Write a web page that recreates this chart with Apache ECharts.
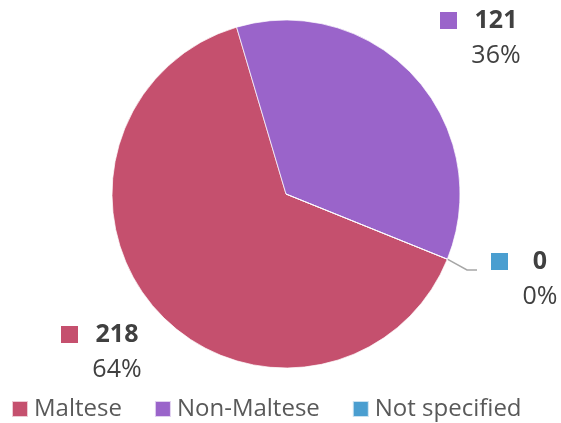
<!DOCTYPE html>
<html>
<head>
<meta charset="utf-8">
<script src="https://cdn.jsdelivr.net/npm/echarts@6/dist/echarts.min.js"></script>
<style>
  html, body { margin: 0; padding: 0; background: #fff; }
  #chart { width: 561px; height: 423px; }
</style>
</head>
<body>
<div id="chart"></div>
<script>
// data
const categories = ['Maltese', 'Non-Maltese', 'Not specified'];
const counts = [218, 121, 0];
const colors = ['#C5506E', '#9A64CA', '#4A9ED0'];

// where each label box sits (left, top); the last one has extra padding for its leader line
const labelPos = [[61, 317], [440, 3], [477, 226]];

const total = counts.reduce((a, b) => a + b, 0);

const chart = echarts.init(document.getElementById('chart'));
const font = "'Open Sans', 'Liberation Sans', sans-serif";

const numStyle = {
  align: 'center', width: 36,
  fontSize: 25, color: '#404040', fontFamily: font, lineHeight: 35,
};

const option = {
  animation: false,
  color: colors,
  legend: {
    top: 392,
    left: 6,
    itemWidth: 16,
    itemHeight: 16,
    itemGap: 32,
    icon: 'rect',
    textStyle: { color: '#595959', fontSize: 24, fontFamily: font, padding: [0, 0, 0, 1] },
    data: categories,
  },
  series: [
    {
      type: 'pie',
      center: [286, 194],
      radius: 174,
      startAngle: -22,
      clockwise: true,
      itemStyle: { borderColor: 'rgba(255,255,255,0.7)', borderWidth: 1 },
      emphasis: { disabled: true },
      data: categories.map((name, i) => ({
        name: name,
        value: counts[i],
        labelLine: { show: i === 2 },
        label: i === 2
          ? { width: 81, padding: [18, 0, 0, 14], backgroundColor: 'rgba(255,255,255,0)' }
          : {},
      })),
      label: {
        show: true,
        position: 'outside',
        align: 'left',
        width: 95,
        overflow: 'none',
        fontFamily: font,
        formatter: (params) => {
          const i = params.dataIndex;
          const pct = Math.round((counts[i] / total) * 100) + '%';
          return '{sq' + i + '|}{v|' + counts[i] + '}\n{sp|}{p|' + pct + '}';
        },
        rich: {
          sq0: { width: 17, height: 17, backgroundColor: colors[0] },
          sq1: { width: 17, height: 17, backgroundColor: colors[1] },
          sq2: { width: 17, height: 17, backgroundColor: colors[2] },
          sp: { width: 17, height: 17 },
          v: Object.assign({}, numStyle, { fontWeight: 'bold' }),
          p: Object.assign({}, numStyle),
        },
      },
      labelLine: {
        show: false,
        length: 20,
        length2: 10,
        lineStyle: { color: '#A6A6A6', width: 1.5 },
      },
      labelLayout: (params) => ({
        x: labelPos[params.dataIndex][0],
        y: labelPos[params.dataIndex][1],
        align: 'left',
        verticalAlign: 'top',
      }),
    },
  ],
};

chart.setOption(option);
</script>
</body>
</html>
